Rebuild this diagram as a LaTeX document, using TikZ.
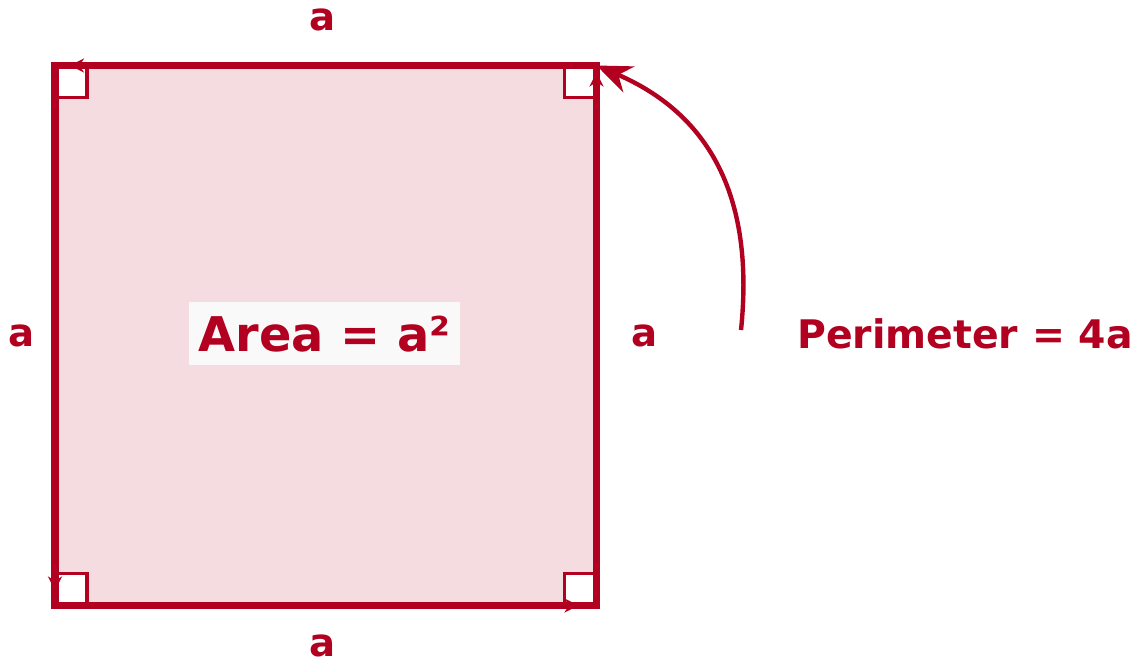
\documentclass[tikz,border=0pt]{standalone}
\usepackage{fontspec}
\setmainfont{DejaVu Sans}
\usepackage{tikz}
\usetikzlibrary{arrows.meta,positioning,calc}
\usepackage{xcolor}
\definecolor{crimson}{RGB}{178,0,32}
\definecolor{softpink}{RGB}{244,220,224}
\definecolor{paleshade}{RGB}{249,249,249}

\tikzset{
    sidelabel/.style={font=\fontsize{11}{13}\selectfont\bfseries, text=crimson},
    rightangle/.style={draw=crimson, line width=1.1pt, fill=white},
    sidearrow/.style={crimson, line width=2pt, -{Stealth[length=4pt,width=4pt]}},
}

\begin{document}
\begin{tikzpicture}
    \useasboundingbox (0,0) rectangle (11.44,6.61);
    % Square corners
    \coordinate (tl) at (0.55,5.955);
    \coordinate (tr) at (5.965,5.955);
    \coordinate (bl) at (0.55,0.555);
    \coordinate (br) at (5.965,0.555);
    % Filled square
    \fill[softpink] (bl) rectangle (tr);
    % Right-angle marks
    \draw[rightangle] ($(tl)+(0.02,-0.02)$) rectangle ++(0.30,-0.30);
    \draw[rightangle] ($(tr)+(-0.02,-0.02)$) rectangle ++(-0.30,-0.30);
    \draw[rightangle] ($(bl)+(0.02,0.02)$) rectangle ++(0.30,0.30);
    \draw[rightangle] ($(br)+(-0.02,0.02)$) rectangle ++(-0.30,0.30);
    % Sides
    \draw[crimson, line width=2pt] (bl) rectangle (tr);
    \draw[sidearrow, shorten >=0.15cm] (tl) -- (bl);
    \draw[sidearrow, shorten >=0.18cm] (bl) -- (br);
    \draw[sidearrow, shorten >=0.07cm] (br) -- (tr);
    \draw[sidearrow, shorten >=0.15cm] (tr) -- (tl);
    % Side labels
    \node[sidelabel] (topa) at (3.23,6.41) {a};
    \node[sidelabel] (bota) at (3.23,0.15) {a};
    \node[sidelabel] (lefta) at (0.22,3.25) {a};
    \node[sidelabel] (righta) at (6.45,3.25) {a};
    % Area and perimeter
    \node[font=\fontsize{13.6}{16}\selectfont\bfseries, text=crimson, fill=paleshade,
          minimum width=2.71cm, minimum height=0.63cm, inner sep=0pt] (area) at (3.245,3.27) {Area = a²};
    \node[font=\fontsize{11.2}{13}\selectfont\bfseries, text=crimson] (perim) at (9.65,3.27) {Perimeter = 4a};
    \coordinate (start) at (7.41,3.31);
    \draw[crimson, line width=1.25pt, -{Stealth[length=10pt,width=8pt]}]
        (start) .. controls (7.56,4.76) and (7.00,5.51) .. (tr);
\end{tikzpicture}
\end{document}
